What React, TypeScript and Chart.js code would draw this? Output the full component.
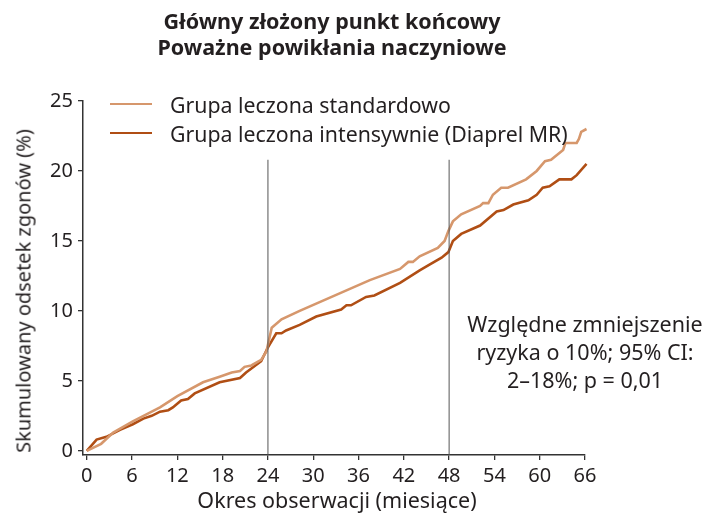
import React, { useEffect, useRef } from "react";
import { Chart, registerables } from "chart.js";

Chart.register(...registerables);

const titleLines = ["Główny złożony punkt końcowy", "Poważne powikłania naczyniowe"];
const seriesNames = ["Grupa leczona standardowo", "Grupa leczona intensywnie (Diaprel MR)"];
const seriesColors = ["#D6976C", "#B04E14"];
const xTitle = "Okres obserwacji (miesiące)";
const yTitle = "Skumulowany odsetek zgonów (%)";
const noteLines = ["Względne zmniejszenie", "ryzyka o 10%; 95% CI:", "2–18%; p = 0,01"];

const xTicks = [0, 6, 12, 18, 24, 30, 36, 42, 48, 54, 60, 66];
const yTicks = [0, 5, 10, 15, 20, 25];

const stdMonths = [0, 1.9, 3.5, 6.1, 7.9, 9.7, 12, 15.4, 17.6, 19.2, 20.3, 20.9, 21.8, 23.1, 23.8, 24.5, 25.8, 28.2, 37.5, 41.5, 42.6, 43.2, 44.1, 46.5, 47.4, 47.9, 48.5, 49.6, 52.1, 52.5, 53.2, 53.8, 54.9, 55.8, 58.2, 59.6, 60.7, 61.5, 63.1, 63.4, 64.9, 65.2, 65.5, 66.2];
const stdValues = [0, 0.5, 1.3, 2.1, 2.6, 3.1, 3.9, 4.9, 5.3, 5.6, 5.7, 6.0, 6.1, 6.5, 7.1, 8.8, 9.4, 10.0, 12.2, 13.0, 13.5, 13.5, 13.9, 14.5, 15.0, 15.7, 16.4, 16.9, 17.5, 17.7, 17.7, 18.3, 18.8, 18.8, 19.4, 20.0, 20.7, 20.8, 21.5, 22.0, 22.0, 22.3, 22.8, 23.0];

const intMonths = [0, 1.3, 2.6, 4.4, 6.1, 7.5, 8.6, 9.7, 10.8, 11.4, 12.5, 13.4, 14.3, 17.6, 20.3, 21.1, 23.1, 24.0, 25.1, 25.8, 26.4, 28.2, 30.4, 33.7, 34.4, 35.0, 37.0, 38.1, 41.5, 44.1, 45.4, 47.0, 47.9, 48.5, 49.6, 52.1, 54.3, 55.2, 56.5, 58.5, 59.6, 60.4, 61.3, 62.6, 64.2, 64.9, 66.2];
const intValues = [0, 0.8, 1.0, 1.5, 1.9, 2.3, 2.5, 2.8, 2.9, 3.1, 3.6, 3.7, 4.1, 4.9, 5.2, 5.6, 6.4, 7.4, 8.4, 8.4, 8.6, 9.0, 9.6, 10.1, 10.4, 10.4, 11.0, 11.1, 12.0, 12.9, 13.3, 13.8, 14.2, 15.0, 15.5, 16.1, 17.1, 17.2, 17.6, 17.9, 18.3, 18.8, 18.9, 19.4, 19.4, 19.7, 20.5];

const refMonths = [24, 48];
const refTop = 20.8;

const FONT = "'Noto Sans', 'DejaVu Sans', sans-serif";
const TEXT = "#231F20";

export default function App() {
  const ref = useRef<HTMLCanvasElement | null>(null);
  useEffect(() => {
    if (!ref.current) return;
    const toPts = (xs: number[], ys: number[]) => xs.map((x, i) => ({ x, y: ys[i] }));
    const refSets = refMonths.map((m) => ({
      data: [{ x: m, y: -0.3 }, { x: m, y: refTop }],
      borderColor: "#555555",
      borderWidth: 1,
      pointRadius: 0,
      tension: 0,
    }));
    const chart = new Chart(ref.current, {
      type: "line",
      data: {
        datasets: [
          ...refSets,
          {
            data: toPts(stdMonths, stdValues),
            borderColor: seriesColors[0],
            borderWidth: 2.6,
            pointRadius: 0,
            tension: 0,
          },
          {
            data: toPts(intMonths, intValues),
            borderColor: seriesColors[1],
            borderWidth: 2.6,
            pointRadius: 0,
            tension: 0,
          },
        ] as any,
      },
      options: {
        animation: false,
        responsive: true,
        maintainAspectRatio: false,
        clip: false as any,
        layout: { padding: { left: 0, top: 101, right: 117, bottom: 0 } },
        plugins: { legend: { display: false }, tooltip: { enabled: false }, title: { display: false } },
        scales: {
          x: {
            type: "linear",
            min: -0.5,
            max: 66,
            afterFit: (s: any) => { s.height = 59; },
            afterBuildTicks: (s: any) => { s.ticks = xTicks.map((v) => ({ value: v })); },
            grid: { drawOnChartArea: false, drawTicks: true, tickLength: 5, color: "#333", lineWidth: 1.3 },
            border: { display: true, color: "#333", width: 1.5 },
            ticks: { color: TEXT, font: { family: FONT, size: 20 }, padding: 4, maxRotation: 0, autoSkip: false },
          },
          y: {
            type: "linear",
            min: -0.3,
            max: 25,
            afterFit: (s: any) => { s.width = 83; },
            afterBuildTicks: (s: any) => { s.ticks = yTicks.map((v) => ({ value: v })); },
            grid: { drawOnChartArea: false, drawTicks: true, tickLength: 5, color: "#333", lineWidth: 1.3 },
            border: { display: true, color: "#333", width: 1.5 },
            ticks: { color: TEXT, font: { family: FONT, size: 20 }, padding: 5 },
          },
        },
      },
    });
    return () => chart.destroy();
  }, []);

  const abs = (s: React.CSSProperties): React.CSSProperties => ({ position: "absolute", fontFamily: FONT, color: TEXT, whiteSpace: "nowrap", ...s });

  return (
    <div style={{ position: "fixed", left: 0, top: 0, width: 702, height: 514, background: "#fff" }}>
      <canvas ref={ref} />
      <div style={abs({ left: 0, width: 664, top: 8, textAlign: "center", fontWeight: 700, fontSize: 21.5, lineHeight: "26px" })}>
        {titleLines.map((t) => <div key={t}>{t}</div>)}
      </div>
      {seriesNames.map((n, i) => (
        <div key={n} style={abs({ left: 110, top: 90 + i * 29, height: 28, display: "flex", alignItems: "center", fontSize: 21.3 })}>
          <span style={{ display: "inline-block", width: 42, height: 0, borderTop: `2.6px solid ${seriesColors[i]}`, marginRight: 18 }} />
          <span>{n}</span>
        </div>
      ))}
      <div style={abs({ left: 466, width: 238, top: 310, textAlign: "center", fontSize: 21.5, lineHeight: "28px" })}>
        {noteLines.map((t) => <div key={t}>{t}</div>)}
      </div>
      <div style={abs({ left: 87, width: 500, top: 485, textAlign: "center", fontSize: 21.5 })}>{xTitle}</div>
      <div style={abs({ left: 23, top: 291, fontSize: 20, transform: "translate(-50%, -50%) rotate(-90deg)" })}>{yTitle}</div>
    </div>
  );
}
